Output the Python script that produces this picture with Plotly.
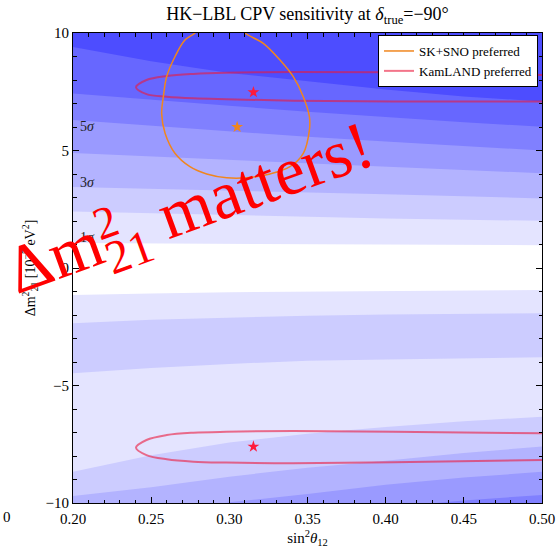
import plotly.graph_objects as go

# ---------------- data ----------------
XS = [0.20, 0.25, 0.30, 0.35, 0.40, 0.45, 0.50]

# contour boundaries (Δm² value of each nσ line at XS), upper half
POS_1S = [1.06, 1.04, 1.02, 1.00, 0.99, 0.98, 0.97]
POS_2S = [2.40, 2.32, 2.25, 2.18, 2.11, 2.05, 2.01]
POS_3S = [3.45, 3.38, 3.31, 3.24, 3.14, 3.05, 2.96]
POS_4S = [4.89, 4.75, 4.60, 4.46, 4.30, 4.16, 4.03]
POS_5S = [6.30, 6.05, 5.80, 5.58, 5.38, 5.18, 5.00]
POS_6S = [7.43, 7.15, 6.90, 6.65, 6.42, 6.20, 6.01]
POS_7S = [9.40, 8.80, 8.30, 7.95, 7.60, 7.30, 7.08]
# lower half
NEG_1S = [-1.15, -1.08, -1.03, -1.00, -0.98, -0.96, -0.94]
NEG_2S_A = [-2.35, -2.20, -2.10, -2.03, -1.98, -1.95, -1.93]
NEG_2S_B = [-4.48, -4.25, -4.08, -3.95, -3.89, -3.84, -3.80]
NEG_2S_C = [-8.67, -7.97, -7.43, -7.05, -6.77, -6.52, -6.33]
NEG_3S = [-9.70, -9.33, -8.88, -8.50, -8.20, -7.87, -7.60]
NEG_4S = [-11.2, -10.5, -9.97, -9.62, -9.22, -8.92, -8.67]
NEG_5S = [-13.0, -12.3, -11.6, -11.0, -10.2, -9.89, -9.66]

LEVEL_COLORS = ["#e4e4ff", "#ccccff", "#b3b3ff", "#9a9aff", "#8080ff", "#6767ff", "#4d4dff"]

# SK+SNO preferred region
SKSNO_X = [0.2825, 0.2780, 0.2716, 0.2652, 0.2599, 0.2578, 0.2567, 0.2589, 0.2652, 0.2748,
           0.2855, 0.2983, 0.3111, 0.3260, 0.3388, 0.3473, 0.3512, 0.3512, 0.3473, 0.3409,
           0.3324, 0.3217, 0.3100, 0.3050]
SKSNO_Y = [10.4, 10.0, 9.70, 8.99, 8.14, 7.29, 6.58, 5.73, 4.88, 4.31,
           4.00, 3.84, 3.84, 4.00, 4.31, 4.88, 5.87, 6.44, 7.29, 8.14,
           8.85, 9.56, 10.0, 10.4]
SKSNO_BEST_X = [0.305]
SKSNO_BEST_Y = [6.0]

# KamLAND preferred regions
KAM_UP_X = [0.50, 0.405, 0.341, 0.298, 0.277, 0.260, 0.247, 0.2403,
            0.247, 0.260, 0.277, 0.298, 0.341, 0.405, 0.50]
KAM_UP_Y = [8.21, 8.33, 8.34, 8.31, 8.26, 8.17, 8.00, 7.69,
            7.40, 7.29, 7.22, 7.18, 7.12, 7.09, 7.08]
KAM_LO_X = [0.50, 0.405, 0.341, 0.298, 0.277, 0.260, 0.247, 0.2403,
            0.247, 0.260, 0.277, 0.298, 0.341, 0.405, 0.50]
KAM_LO_Y = [-7.03, -6.97, -6.94, -6.97, -7.01, -7.11, -7.32, -7.65,
            -7.96, -8.14, -8.24, -8.28, -8.31, -8.27, -8.17]
KAM_BEST_X = [0.3154, 0.3154]
KAM_BEST_Y = [7.48, -7.60]

SIGMA_TEXT = ["1<i>σ</i>", "3<i>σ</i>", "5<i>σ</i>"]
SIGMA_Y = [1.30, 3.62, 6.04]

X_TICKS = [0.20, 0.25, 0.30, 0.35, 0.40, 0.45, 0.50]
Y_TICKS = [-10, -5, 0, 5, 10]

# ---------------- figure ----------------
SERIF = "Liberation Serif"
TOP = [11.0] * len(XS)
BOT = [-14.0] * len(XS)

L, R, T, B = 73, 16, 33, 45
W, H = 558, 548
pw, ph = W - L - R, H - T - B

fig = go.Figure()


def band(lower, upper, color):
    fig.add_trace(go.Scatter(
        x=XS + XS[::-1], y=lower + upper[::-1], mode="lines",
        fill="toself", fillcolor=color, line=dict(width=0),
        hoverinfo="skip", showlegend=False))


# upper half: layered from 1σ upwards
for bnd, col in zip([POS_1S, POS_2S, POS_3S, POS_4S, POS_5S, POS_6S, POS_7S], LEVEL_COLORS):
    band(bnd, TOP, col)
# lower half
band(BOT, NEG_1S, LEVEL_COLORS[0])
band(NEG_2S_B, NEG_2S_A, LEVEL_COLORS[1])
band(BOT, NEG_2S_C, LEVEL_COLORS[1])
band(BOT, NEG_3S, LEVEL_COLORS[2])
band(BOT, NEG_4S, LEVEL_COLORS[3])
band(BOT, NEG_5S, LEVEL_COLORS[4])

RED = "rgba(235,25,60,0.6)"
fig.add_trace(go.Scatter(x=KAM_UP_X, y=KAM_UP_Y, mode="lines", line=dict(color=RED, width=2, shape="spline"),
                         name="KamLAND preferred", legendrank=2, hoverinfo="skip"))
fig.add_trace(go.Scatter(x=KAM_LO_X, y=KAM_LO_Y, mode="lines", line=dict(color=RED, width=2, shape="spline"),
                         showlegend=False, hoverinfo="skip"))
fig.add_trace(go.Scatter(x=SKSNO_X, y=SKSNO_Y, mode="lines", line=dict(color="#f0861e", width=1.5, shape="spline"),
                         name="SK+SNO preferred", legendrank=1, hoverinfo="skip"))
fig.add_trace(go.Scatter(x=SKSNO_BEST_X, y=SKSNO_BEST_Y, mode="markers",
                         marker=dict(symbol="star", size=9, color="#f0861e"), showlegend=False))
fig.add_trace(go.Scatter(x=KAM_BEST_X, y=KAM_BEST_Y, mode="markers",
                         marker=dict(symbol="star", size=9, color="#ff1a3c"), showlegend=False))

annotations = []
for t, yv in zip(SIGMA_TEXT, SIGMA_Y):
    annotations.append(dict(x=0.209, y=yv, xref="x", yref="y", text=t, showarrow=False,
                            font=dict(family=SERIF, size=14, color="#222")))
# stray clipped tick label from neighbouring panel
annotations.append(dict(x=(7 - L) / pw, y=(H - B - 517) / ph, xref="paper", yref="paper",
                        xanchor="center", yanchor="middle", text="0", showarrow=False,
                        font=dict(family=SERIF, size=15, color="black")))
# big red text
annotations.append(dict(x=0.2755, y=2.40, xref="x", yref="y", text="Δm<sub>21</sub> matters!",
                        showarrow=False, textangle=-20, xanchor="center", yanchor="middle",
                        font=dict(family=SERIF, size=68, color="#ff0000")))
annotations.append(dict(x=0.2205, y=1.95, xref="x", yref="y", text="2",
                        showarrow=False, textangle=-20, xanchor="center", yanchor="middle",
                        font=dict(family=SERIF, size=46, color="#ff0000")))

fig.update_layout(
    width=W, height=H,
    margin=dict(l=L, r=R, t=T, b=B, autoexpand=False),
    paper_bgcolor="white", plot_bgcolor="white",
    font=dict(family=SERIF, size=15, color="black"),
    title=dict(text="HK−LBL CPV sensitivity at <i>δ</i><sub>true</sub>=−90°",
               x=0.5, xref="paper", xanchor="center",
               y=1 - 14 / H, yref="container", yanchor="middle",
               font=dict(family=SERIF, size=18, color="black")),
    legend=dict(x=0.9915, y=0.9957, xanchor="right", yanchor="top",
                bgcolor="white", bordercolor="black", borderwidth=1,
                font=dict(family=SERIF, size=13), tracegroupgap=2),
    annotations=annotations,
    showlegend=True,
)
fig.update_xaxes(range=[0.20, 0.50], tickvals=X_TICKS, tickformat=".2f", automargin=False,
                 showgrid=False, zeroline=False, showline=True, linecolor="black", linewidth=1,
                 mirror="ticks", ticks="inside", ticklen=6, tickcolor="black",
                 ticklabelstandoff=2,
                 minor=dict(dtick=0.01, ticks="inside", ticklen=3.5, tickcolor="black"),
                 title=dict(text="sin<sup>2</sup><i>θ</i><sub>12</sub>", font=dict(size=15), standoff=17),
                 tickfont=dict(size=15))
fig.update_yaxes(range=[-10, 10], tickvals=Y_TICKS, automargin=False,
                 showgrid=False, zeroline=False, showline=True, linecolor="black", linewidth=1,
                 mirror="ticks", ticks="inside", ticklen=6, tickcolor="black",
                 minor=dict(dtick=1, ticks="inside", ticklen=3.5, tickcolor="black"),
                 title=dict(text="Δm<sup>2</sup><sub>21</sub> [10<sup>−5</sup> eV<sup>2</sup>]", font=dict(size=14), standoff=6),
                 tickfont=dict(size=15))

fig.write_html("out.html")
